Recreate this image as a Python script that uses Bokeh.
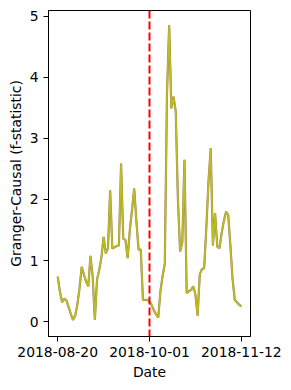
import pandas as pd
from bokeh.plotting import figure
from bokeh.models import Span, FixedTicker, DatetimeTickFormatter, Range1d
from bokeh.embed import file_html
from bokeh.resources import INLINE

start_date = "2018-08-20"
event_date = "2018-10-01"
x_tick_labels = ["2018-08-20", "2018-10-01", "2018-11-12"]
y_ticks = [0, 1, 2, 3, 4, 5]

f_stat = [0.74, 0.50, 0.32, 0.38, 0.35, 0.24, 0.13, 0.03, 0.10, 0.28,
          0.55, 0.90, 0.77, 0.66, 0.58, 1.08, 0.74, 0.03, 0.69, 0.85,
          1.05, 1.39, 1.12, 1.20, 2.15, 1.20, 1.22, 1.24, 1.25, 2.59,
          1.36, 1.34, 1.04, 1.50, 1.83, 2.18, 1.65, 1.18, 1.18, 0.36,
          0.36, 0.36, 0.33, 0.27, 0.19, 0.12, 0.07, 0.50, 0.75, 0.95,
          3.74, 4.85, 3.49, 3.68, 3.44, 2.00, 1.15, 1.30, 2.65, 0.47,
          0.50, 0.52, 0.58, 0.45, 0.10, 0.78, 0.86, 0.88, 1.55, 2.30,
          2.84, 1.25, 1.78, 1.23, 1.20, 1.45, 1.65, 1.80, 1.75, 1.25,
          0.70, 0.36, 0.32, 0.28, 0.25]

dates = pd.date_range(start_date, periods=len(f_stat), freq="D")

day = pd.Timedelta(days=1)
x_start = dates[0] - 4.2 * day
x_end = dates[-1] + 4.2 * day

p = figure(width=283, height=382, x_axis_type="datetime",
           output_backend="svg", toolbar_location=None,
           x_range=Range1d(x_start, x_end), y_range=Range1d(-0.24, 5.09),
           min_border_left=48, min_border_right=33,
           min_border_top=10, min_border_bottom=45)

p.line(dates, f_stat, line_color="#9a7f5a", line_width=2.2)
p.line(dates, f_stat, line_color="#bcbd22", line_width=1.6)

p.add_layout(Span(location=pd.Timestamp(event_date), dimension="height",
                  line_color="red", line_width=2, line_dash="8 3"))

tick_ms = [pd.Timestamp(t).value / 1e6 for t in x_tick_labels]
p.xaxis.ticker = FixedTicker(ticks=tick_ms)
p.xaxis.formatter = DatetimeTickFormatter(days="%Y-%m-%d", months="%Y-%m-%d",
                                          hours="%Y-%m-%d")
p.yaxis.ticker = FixedTicker(ticks=y_ticks)

p.xgrid.visible = False
p.ygrid.visible = False
p.outline_line_color = "black"
p.outline_line_width = 1

for ax in (p.xaxis, p.yaxis):
    ax.axis_line_color = "black"
    ax.major_tick_line_color = "black"
    ax.major_tick_line_width = 1
    ax.major_tick_out = 5
    ax.major_tick_in = 0
    ax.minor_tick_line_color = None
    ax.major_label_standoff = 5
    ax.major_label_text_font = "DejaVu Sans"
    ax.major_label_text_font_size = "13.9px"
    ax.major_label_text_color = "black"
    ax.axis_label_text_font = "DejaVu Sans"
    ax.axis_label_text_font_size = "13.9px"
    ax.axis_label_text_font_style = "normal"
    ax.axis_label_text_color = "black"

p.xaxis.axis_label = "Date"
p.yaxis.axis_label = "Granger-Causal (f-statistic)"
p.xaxis.axis_label_standoff = 4
p.yaxis.axis_label_standoff = 3

open("out.html", "w").write(file_html(p, INLINE))
